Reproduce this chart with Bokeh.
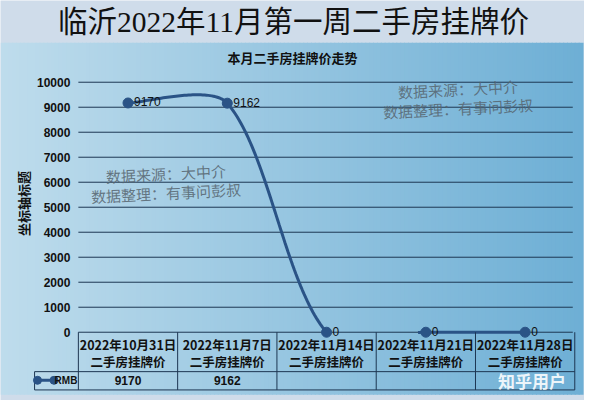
import numpy as np
from bokeh.plotting import figure
from bokeh.models import Range1d, FixedTicker, Label
from bokeh.core.properties import value
from bokeh.embed import file_html
from bokeh.resources import INLINE

# ---------------- data ----------------
page_title = "临沂2022年11月第一周二手房挂牌价"
chart_title = "本月二手房挂牌价走势"
dates = ["2022年10月31日", "2022年11月7日", "2022年11月14日", "2022年11月21日", "2022年11月28日"]
row_suffix = "二手房挂牌价"
series_name = "RMB"
prices = [9170, 9162, 0, 0, 0]
table_values = ["9170", "9162", "", "", ""]
y_ticks = [0, 1000, 2000, 3000, 4000, 5000, 6000, 7000, 8000, 9000, 10000]
y_title = "坐标轴标题"
watermark_lines = ["数据来源：大中介", "数据整理：有事问彭叔"]
credit = "知乎用户"

# ---------------- layout helpers (reference pixel -> data units) ----------------
W, H = 584, 400
PX0 = 80.0      # left of plot area
CAT_W = 102.0   # width of a category
PY0 = 345.0     # y of value 0
PX_PER_UNIT = 0.026


def X(rx):
    return (rx - PX0) / CAT_W


def Y(ry):
    return (PY0 - ry) / PX_PER_UNIT


CJK = "Noto Sans CJK SC"
NUM = "Liberation Sans"
LINE_C = "#2a5386"
GRID_C = "#1d3652"

p = figure(width=W, height=H, x_range=Range1d(X(0), X(600)), y_range=Range1d(Y(416), Y(0)),
           output_backend="svg", toolbar_location=None, x_axis_location=None,
           min_border=0, min_border_left=0, min_border_right=0, min_border_top=0, min_border_bottom=0)
p.background_fill_color = "#cfdcea"
p.border_fill_color = "#cfdcea"
p.outline_line_color = None
p.grid.visible = False

# gradient background of the chart area
n_strips = 150
edges = np.linspace(0, 598, n_strips + 1)
c_left = np.array([190, 220, 236])
c_right = np.array([110, 175, 213])
cols = []
for k in range(n_strips):
    t = k / (n_strips - 1)
    c = (c_left * (1 - t) + c_right * t).round().astype(int)
    cols.append("#%02x%02x%02x" % tuple(c))
p.quad(left=[X(e) for e in edges[:-1]], right=[X(e) + 0.01 for e in edges[1:]],
       top=Y(44), bottom=Y(410), fill_color=cols, line_color=None)

# y axis inside the frame
ax = p.yaxis[0]
ax.fixed_location = 0
ax.ticker = FixedTicker(ticks=y_ticks)
ax.axis_line_color = None
ax.major_tick_line_color = None
ax.minor_tick_line_color = None
ax.major_tick_out = 0
ax.major_tick_in = 0
ax.major_label_standoff = 8
ax.major_label_text_font = NUM
ax.major_label_text_font_style = "bold"
ax.major_label_text_font_size = "12px"
ax.major_label_text_color = "#111111"

n = len(dates)
xc = [i + 0.5 for i in range(n)]

# horizontal gridlines
p.segment(x0=[0] * len(y_ticks), x1=[n - 0.02] * len(y_ticks), y0=y_ticks, y1=y_ticks,
          line_color=GRID_C, line_width=1)


# smoothed line (Excel style Bezier), computed in pixel space
def smooth_curve(xs, ys, steps=60, f=0.29):
    P = np.column_stack([PX0 + CAT_W * np.asarray(xs, float), PY0 - PX_PER_UNIT * np.asarray(ys, float)])
    m = len(P)
    d = np.linalg.norm(np.diff(P, axis=0), axis=1)
    out = []
    for i in range(m - 1):
        p0, p1 = P[i], P[i + 1]
        if i == 0:
            c1 = p0 + (p1 - p0) * f * 0.5
        else:
            c1 = p0 + (P[i + 1] - P[i - 1]) * f * d[i] / (d[i - 1] + d[i])
        if i + 1 == m - 1:
            c2 = p1 - (p1 - p0) * f * 0.5
        else:
            c2 = p1 - (P[i + 2] - P[i]) * f * d[i] / (d[i] + d[i + 1])
        t = np.linspace(0, 1, steps)[:, None]
        seg = (1 - t) ** 3 * p0 + 3 * (1 - t) ** 2 * t * c1 + 3 * (1 - t) * t ** 2 * c2 + t ** 3 * p1
        out.append(seg if i == 0 else seg[1:])
    S = np.vstack(out)
    cx = (S[:, 0] - PX0) / CAT_W
    cy = (PY0 - S[:, 1]) / PX_PER_UNIT
    cy = np.where(cy < -15, np.nan, cy)
    return cx, cy


cx, cy = smooth_curve(xc, prices)
p.line(cx, cy, line_color=LINE_C, line_width=3)
p.scatter(xc, prices, size=10, fill_color=LINE_C, line_color=LINE_C)
p.text(xc, prices, text=[str(v) for v in prices], x_offset=6, y_offset=-1,
       text_baseline="middle", text_align="left", text_font=value(NUM),
       text_font_size="12px", text_color="#111111")

# data table
bounds = list(range(n + 1))
p.segment(x0=bounds, x1=bounds, y0=[Y(345)] * (n + 1), y1=[Y(405)] * (n + 1),
          line_color=GRID_C, line_width=1)
p.segment(x0=[X(35), X(35)], x1=[n, n], y0=[Y(386), Y(405)], y1=[Y(386), Y(405)],
          line_color=GRID_C, line_width=1)
p.segment(x0=[X(35)], x1=[X(35)], y0=[Y(386)], y1=[Y(405)], line_color=GRID_C, line_width=1)
p.text(xc, [Y(358)] * n, text=dates, text_align="center", text_baseline="middle",
       text_font=value(CJK), text_font_style="bold", text_font_size="12.5px", text_color="#111111")
p.text(xc, [Y(375)] * n, text=[row_suffix] * n, text_align="center", text_baseline="middle",
       text_font=value(CJK), text_font_style="bold", text_font_size="12.5px", text_color="#111111")
p.text(xc, [Y(395.5)] * n, text=table_values, text_align="center", text_baseline="middle",
       text_font=value(NUM), text_font_style="bold", text_font_size="12px", text_color="#111111")
# legend key in the table
p.line([X(37), X(56)], [Y(395), Y(395)], line_color=LINE_C, line_width=3)
p.scatter([X(38), X(55)], [Y(395), Y(395)], size=8, fill_color=LINE_C, line_color=LINE_C)
p.text([X(79)], [Y(395.5)], text=[series_name], text_align="right", text_baseline="middle",
       text_font=value(NUM), text_font_style="bold", text_font_size="10px", text_color="#111111")

# titles
p.add_layout(Label(x=X(301), y=Y(22), text=page_title, text_align="center", text_baseline="middle",
                   text_font="Liberation Serif, Noto Sans CJK SC", text_font_size="29.5px",
                   text_color="#111111"))
p.add_layout(Label(x=X(300), y=Y(59), text=chart_title, text_align="center", text_baseline="middle",
                   text_font=CJK, text_font_style="bold", text_font_size="13px", text_color="#111111"))
p.add_layout(Label(x=X(24), y=Y(211), text=y_title, angle=np.pi / 2, text_align="center",
                   text_baseline="middle", text_font=CJK, text_font_style="bold",
                   text_font_size="13px", text_color="#111111"))

# watermarks
for (wx, wy) in [(170, 180), (470, 92)]:
    for j, line in enumerate(watermark_lines):
        p.add_layout(Label(x=X(wx), y=Y(wy + 20 * j), text=line, angle=0.05, text_align="center",
                           text_baseline="middle", text_font=CJK, text_font_size="15px",
                           text_color="#56646e", text_alpha=0.85))
p.add_layout(Label(x=X(546), y=Y(395), text=credit, text_align="center", text_baseline="middle",
                   text_font=CJK, text_font_style="bold", text_font_size="17px",
                   text_color="#ffffff", text_alpha=0.9))

open("out.html", "w").write(file_html(p, INLINE))
